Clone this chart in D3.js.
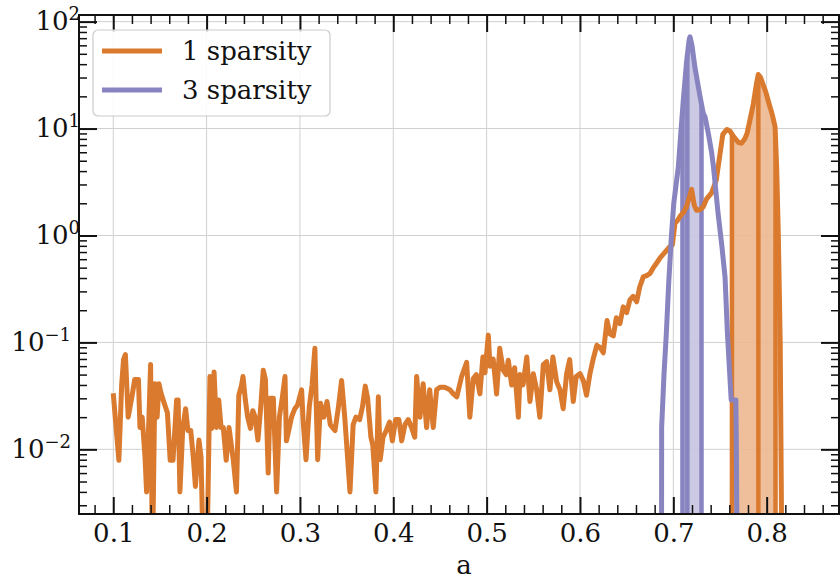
<!DOCTYPE html>
<html>
<head>
<meta charset="utf-8">
<script src="https://cdn.jsdelivr.net/npm/d3@7"></script>
<style>
  body { margin: 0; background: #fff; }
  svg { font-family: "DejaVu Serif", serif; }
</style>
</head>
<body>
<svg id="chart" width="840" height="579"></svg>
<script>
const oneSparsity = [
  [0.100, 0.0335], [0.106, 0.0079], [0.109, 0.040], [0.111, 0.069], [0.113, 0.077],
  [0.116, 0.020], [0.120, 0.031], [0.123, 0.045], [0.127, 0.045], [0.1286, 0.016],
  [0.131, 0.020], [0.134, 0.0085], [0.1357, 0.004], [0.140, 0.062], [0.142, 0.0008],
  [0.1446, 0.041], [0.147, 0.020], [0.149, 0.041], [0.151, 0.034], [0.154, 0.028],
  [0.158, 0.022], [0.161, 0.0079], [0.164, 0.0079], [0.1679, 0.029], [0.1695, 0.029],
  [0.1714, 0.004], [0.1745, 0.016], [0.1775, 0.024], [0.180, 0.015], [0.183, 0.015],
  [0.1857, 0.0085], [0.188, 0.0045], [0.1918, 0.0122], [0.194, 0.0085], [0.197, 0.0006],
  [0.200, 0.0006], [0.2036, 0.048], [0.2055, 0.0157], [0.208, 0.053], [0.2105, 0.016],
  [0.213, 0.029], [0.2155, 0.016], [0.2179, 0.016], [0.221, 0.0079], [0.224, 0.016],
  [0.2286, 0.0079], [0.232, 0.004], [0.2345, 0.032], [0.2375, 0.040], [0.239, 0.048],
  [0.2415, 0.029], [0.244, 0.020], [0.247, 0.0157], [0.2495, 0.023], [0.252, 0.020],
  [0.255, 0.0122], [0.258, 0.025], [0.2607, 0.055], [0.263, 0.045], [0.266, 0.006],
  [0.268, 0.030], [0.2715, 0.030], [0.275, 0.004], [0.278, 0.020], [0.281, 0.030],
  [0.284, 0.048], [0.2855, 0.012], [0.288, 0.015], [0.291, 0.020], [0.2945, 0.024],
  [0.2975, 0.026], [0.3018, 0.036], [0.3035, 0.018], [0.3065, 0.008], [0.310, 0.025],
  [0.313, 0.040], [0.316, 0.088], [0.3175, 0.025], [0.319, 0.008], [0.322, 0.027],
  [0.3255, 0.020], [0.329, 0.028], [0.3325, 0.017], [0.3375, 0.015], [0.341, 0.024],
  [0.3446, 0.044], [0.348, 0.020], [0.3536, 0.004], [0.357, 0.017], [0.360, 0.020],
  [0.364, 0.019], [0.367, 0.025], [0.370, 0.039], [0.3725, 0.030], [0.376, 0.013],
  [0.378, 0.011], [0.3814, 0.004], [0.384, 0.031], [0.386, 0.008], [0.389, 0.013],
  [0.3925, 0.015], [0.396, 0.018], [0.399, 0.012], [0.4025, 0.019], [0.406, 0.019],
  [0.409, 0.012], [0.4125, 0.017], [0.416, 0.019], [0.4195, 0.016], [0.423, 0.013],
  [0.425, 0.048], [0.4286, 0.020], [0.432, 0.041], [0.4357, 0.016], [0.439, 0.036],
  [0.4428, 0.016], [0.4464, 0.036], [0.450, 0.038], [0.455, 0.038], [0.4607, 0.036],
  [0.4643, 0.033], [0.468, 0.031], [0.4732, 0.048], [0.4786, 0.065], [0.482, 0.020],
  [0.4857, 0.046], [0.489, 0.050], [0.4928, 0.033], [0.496, 0.073], [0.4982, 0.052],
  [0.5018, 0.117], [0.5036, 0.060], [0.507, 0.070], [0.5107, 0.033], [0.514, 0.088],
  [0.5178, 0.055], [0.521, 0.050], [0.5232, 0.068], [0.5268, 0.040], [0.530, 0.058],
  [0.534, 0.020], [0.5357, 0.050], [0.539, 0.040], [0.543, 0.073], [0.5464, 0.028],
  [0.550, 0.051], [0.5536, 0.036], [0.557, 0.020], [0.5607, 0.062], [0.5643, 0.066],
  [0.5678, 0.036], [0.571, 0.073], [0.575, 0.043], [0.5786, 0.036], [0.582, 0.024],
  [0.5857, 0.051], [0.589, 0.069], [0.5928, 0.028], [0.596, 0.048], [0.600, 0.051],
  [0.6036, 0.044], [0.607, 0.032], [0.6107, 0.051], [0.614, 0.069], [0.618, 0.094],
  [0.6214, 0.090], [0.625, 0.080], [0.629, 0.160], [0.632, 0.120], [0.6357, 0.115],
  [0.639, 0.170], [0.6428, 0.150], [0.6464, 0.215], [0.650, 0.190], [0.6535, 0.25],
  [0.657, 0.27], [0.6607, 0.24], [0.664, 0.33], [0.6678, 0.41], [0.671, 0.42],
  [0.675, 0.44], [0.6786, 0.50], [0.682, 0.55], [0.686, 0.62], [0.690, 0.68],
  [0.693, 0.73], [0.696, 0.78], [0.699, 0.82], [0.7018, 1.3], [0.705, 1.4],
  [0.707, 1.5], [0.711, 1.65], [0.714, 1.85], [0.7196, 2.7], [0.7225, 1.9],
  [0.725, 1.72], [0.729, 1.75], [0.732, 1.85], [0.7357, 2.2], [0.741, 2.5],
  [0.746, 3.3], [0.749, 5.0], [0.753, 8.8], [0.7575, 9.8], [0.7605, 9.5],
  [0.765, 8.3], [0.770, 7.4], [0.773, 7.3], [0.7765, 8.0], [0.779, 9.0],
  [0.7825, 12.5], [0.7857, 17.0], [0.789, 26], [0.791, 32], [0.7935, 30],
  [0.796, 26], [0.799, 22], [0.8018, 18], [0.806, 13.5], [0.809, 10.4],
  [0.8107, 4.4], [0.8125, 1.0], [0.8145, 0.1], [0.8165, 0.0005]
];

const threeSparsity = [
  [0.6872, 0.00001], [0.6875, 0.016], [0.690, 0.05], [0.6925, 0.12], [0.695, 0.35],
  [0.698, 1.0], [0.7005, 2.0], [0.7054, 4.4], [0.708, 9], [0.7107, 18.4],
  [0.7143, 43], [0.717, 68], [0.7179, 72], [0.720, 60], [0.7232, 37],
  [0.7286, 20], [0.732, 14], [0.734, 12.8], [0.7375, 9], [0.741, 6],
  [0.743, 4.4], [0.748, 1.6], [0.752, 0.8], [0.7554, 0.41], [0.758, 0.12],
  [0.762, 0.029], [0.767, 0.029], [0.7675, 0.012], [0.7696, 0.00001]
];

// lower bound, mode, upper bound (vertical lines + shaded band)
const oneBounds = [0.7628, 0.7911, 0.8095];
const threeBounds = [0.7098, 0.7150, 0.7302];

const seriesNames = ["1 sparsity", "3 sparsity"];
const colors = ["#d97a2f", "#8884c0"];
const fillColors = ["#ecb88f", "#c5c3e1"];

const xTicks = [0.1, 0.2, 0.3, 0.4, 0.5, 0.6, 0.7, 0.8];
const xTickLabels = ["0.1", "0.2", "0.3", "0.4", "0.5", "0.6", "0.7", "0.8"];
const yTicks = [1e-2, 1e-1, 1, 10, 100];
const yTickExps = ["\u22122", "\u22121", "0", "1", "2"];

const svg = d3.select("#chart");
const margin = { top: 15, right: 1, bottom: 65, left: 79 };
const width = +svg.attr("width") - margin.left - margin.right;
const height = +svg.attr("height") - margin.top - margin.bottom;
const g = svg.append("g").attr("transform", "translate(" + margin.left + "," + margin.top + ")");

const x = d3.scaleLinear().domain([0.0633, 0.8775]).range([0, width]);
const y = d3.scaleLog().domain([0.002485, 115.3]).range([height, 0]);

const xMinor = d3.range(0.08, 0.87, 0.02).filter(v => Math.abs(v * 10 - Math.round(v * 10)) > 1e-6);
const yMinor = [];
for (let k = -3; k <= 2; k++) {
  for (let m = 2; m <= 9; m++) {
    const v = m * Math.pow(10, k);
    if (v > y.domain()[0] && v < y.domain()[1]) yMinor.push(v);
  }
}

svg.append("defs").append("clipPath").attr("id", "plotClip")
  .append("rect").attr("width", width).attr("height", height);

// grid
g.append("g").selectAll("line").data(xTicks).enter().append("line")
  .attr("x1", d => x(d)).attr("x2", d => x(d)).attr("y1", 0).attr("y2", height)
  .attr("stroke", "#d0d0d0").attr("stroke-width", 1);
g.append("g").selectAll("line").data(yTicks).enter().append("line")
  .attr("y1", d => y(d)).attr("y2", d => y(d)).attr("x1", 0).attr("x2", width)
  .attr("stroke", "#d0d0d0").attr("stroke-width", 1);

// value of a curve at a, interpolated the way the drawn line goes (log space)
function curveAt(data, a) {
  for (let i = 1; i < data.length; i++) {
    if (data[i][0] >= a) {
      const [a0, v0] = data[i - 1];
      const [a1, v1] = data[i];
      const t = (a - a0) / (a1 - a0);
      return Math.pow(10, Math.log10(v0) + t * (Math.log10(v1) - Math.log10(v0)));
    }
  }
  return data[data.length - 1][1];
}

const line = d3.line().x(d => x(d[0])).y(d => y(d[1]));
const area = d3.area().x(d => x(d[0])).y0(height + 5).y1(d => y(d[1]));

const plot = g.append("g").attr("clip-path", "url(#plotClip)");

const series = [
  { data: oneSparsity, bounds: oneBounds },
  { data: threeSparsity, bounds: threeBounds }
];

series.forEach((s, i) => {
  const lo = s.bounds[0], hi = s.bounds[2];
  const band = [[lo, curveAt(s.data, lo)]]
    .concat(s.data.filter(d => d[0] > lo && d[0] < hi))
    .concat([[hi, curveAt(s.data, hi)]]);

  plot.append("path")
    .datum(band)
    .attr("d", area)
    .attr("fill", fillColors[i])
    .attr("fill-opacity", 0.9);

  plot.append("g").selectAll("line").data(s.bounds).enter().append("line")
    .attr("x1", d => x(d)).attr("x2", d => x(d))
    .attr("y1", height + 5).attr("y2", d => y(curveAt(s.data, d)))
    .attr("stroke", colors[i])
    .attr("stroke-width", 4.5);
});

series.forEach((s, i) => {
  plot.append("path")
    .datum(s.data)
    .attr("d", line)
    .attr("fill", "none")
    .attr("stroke", colors[i])
    .attr("stroke-width", 5)
    .attr("stroke-linejoin", "round");
});

// axes, ticks pointing inward on all four sides
const fontSize = 26;
function styleAxis(sel) {
  sel.select(".domain").remove();
  sel.selectAll(".tick line").attr("stroke", "#111").attr("stroke-width", 2);
  sel.attr("font-family", "DejaVu Serif, serif").attr("font-size", fontSize);
}
function styleMinor(sel) {
  sel.select(".domain").remove();
  sel.selectAll(".tick line").attr("stroke", "#111").attr("stroke-width", 1.5);
}

g.append("g").attr("transform", "translate(0," + height + ")")
  .call(d3.axisBottom(x).tickValues(xTicks).tickSize(-17).tickPadding(10)
    .tickFormat((d, i) => xTickLabels[i]))
  .call(styleAxis);
g.append("g").attr("transform", "translate(0," + height + ")")
  .call(d3.axisBottom(x).tickValues(xMinor).tickSize(-9).tickFormat(""))
  .call(styleMinor);
g.append("g")
  .call(d3.axisTop(x).tickValues(xTicks).tickSize(-17).tickFormat(""))
  .call(styleAxis);
g.append("g")
  .call(d3.axisTop(x).tickValues(xMinor).tickSize(-9).tickFormat(""))
  .call(styleMinor);

const yAxis = g.append("g")
  .call(d3.axisLeft(y).tickValues(yTicks).tickSize(-18).tickFormat(""))
  .call(styleAxis);
g.append("g")
  .call(d3.axisLeft(y).tickValues(yMinor).tickSize(-8).tickFormat(""))
  .call(styleMinor);
g.append("g").attr("transform", "translate(" + width + ",0)")
  .call(d3.axisRight(y).tickValues(yTicks).tickSize(-18).tickFormat(""))
  .call(styleAxis);
g.append("g").attr("transform", "translate(" + width + ",0)")
  .call(d3.axisRight(y).tickValues(yMinor).tickSize(-8).tickFormat(""))
  .call(styleMinor);

// y tick labels as 10 with superscript exponent
yAxis.selectAll(".tick text").each(function(d, i) {
  const t = d3.select(this);
  const neg = yTickExps[i].startsWith("\u2212");
  t.attr("x", neg ? -8 : 1).attr("dy", "0.3em").attr("text-anchor", "end");
  t.append("tspan").text("10");
  t.append("tspan").attr("dy", -10).attr("font-size", 18).text(yTickExps[i]);
});
g.selectAll(".tick text").attr("fill", "#111");

// frame
g.append("rect").attr("width", width).attr("height", height)
  .attr("fill", "none").attr("stroke", "#111").attr("stroke-width", 2);

// x label
g.append("text")
  .attr("x", width / 2 + 5).attr("y", height + 60)
  .attr("text-anchor", "middle").attr("font-size", fontSize).attr("fill", "#111")
  .text("a");

// legend
const legend = g.append("g").attr("transform", "translate(14,15)");
legend.append("rect")
  .attr("width", 237).attr("height", 86).attr("rx", 5)
  .attr("fill", "#fff").attr("fill-opacity", 0.85)
  .attr("stroke", "#cccccc").attr("stroke-width", 1.2);
seriesNames.forEach((name, i) => {
  const row = legend.append("g").attr("transform", "translate(0," + (21 + i * 39) + ")");
  row.append("line").attr("x1", 9).attr("x2", 69).attr("y1", 0).attr("y2", 0)
    .attr("stroke", colors[i]).attr("stroke-width", 5);
  row.append("text").attr("x", 89).attr("y", 0).attr("dy", "0.35em")
    .attr("font-size", fontSize).attr("fill", "#111").text(name);
});
</script>
</body>
</html>
